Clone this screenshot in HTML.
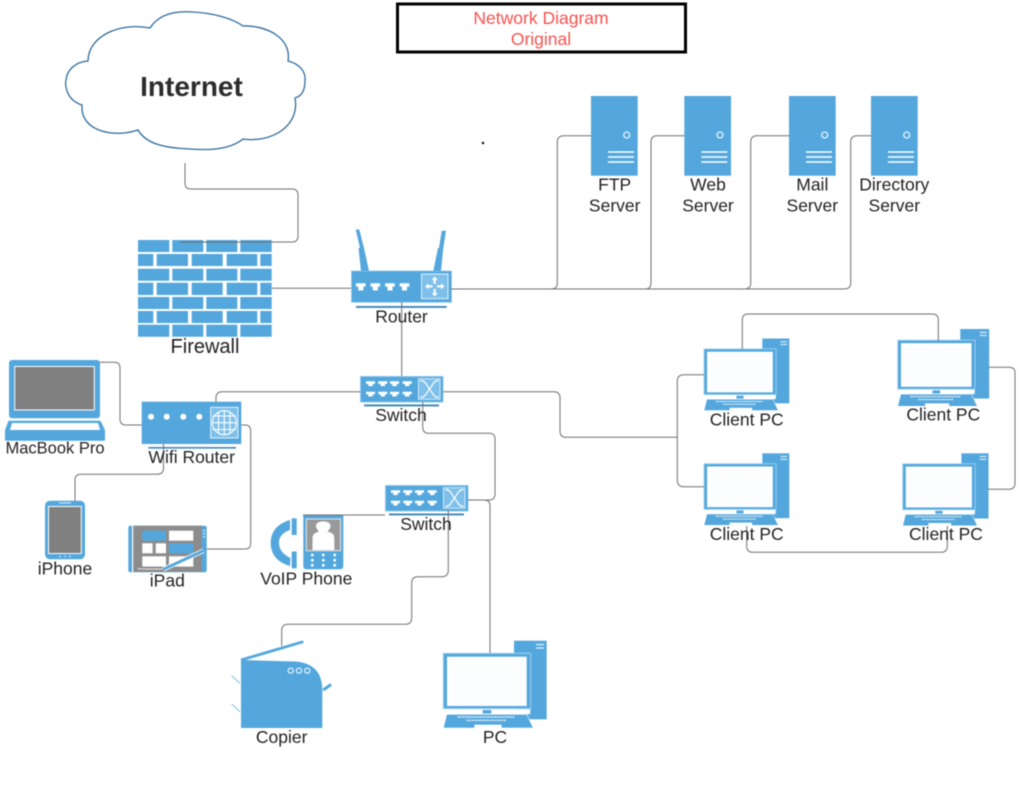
<!DOCTYPE html>
<html><head><meta charset="utf-8"><title>Network Diagram</title>
<style>
html,body{margin:0;padding:0;background:#fff;width:1024px;height:794px;overflow:hidden}
svg{display:block;filter:blur(.5px)}
text{font-family:"Liberation Sans",sans-serif;font-size:17.5px;fill:#222;text-anchor:middle}
.c{fill:none;stroke:#6f6f6f;stroke-width:1}
</style></head><body>
<svg width="1024" height="794" viewBox="0 0 1024 794" xmlns="http://www.w3.org/2000/svg">
<defs>
<path id="port" d="M0 0h9v2.6h-2.3v2.2h-4.4v-2.2h-2.3z" fill="#fff"/>
<path id="rport" d="M0 0h9.6v3.3h-2.3v3.9h-5v-3.9h-2.3z" fill="#fff"/>
<g id="sw">
<rect x=".5" y=".5" width="82.5" height="25.5" fill="#53a7dd" stroke="#8cc6eb"/>
<use href="#port" x="6" y="5.3"/><use href="#port" x="18.3" y="5.3"/><use href="#port" x="30" y="5.3"/><use href="#port" x="42.7" y="5.3"/>
<use href="#port" x="6" y="15.7"/><use href="#port" x="18.3" y="15.7"/><use href="#port" x="30" y="15.7"/><use href="#port" x="42.7" y="15.7"/>
<rect x="58.5" y="2.7" width="21.5" height="20.6" fill="#7fc0ea" stroke="#d5ebf8"/>
<path d="M60.5 4.5c5 0 6 5 9 8.5s4 8.5 9 8.5M78.5 4.5c-5 0-6 5-9 8.5s-4 8.5-9 8.5" fill="none" stroke="#fff" stroke-width="1.2"/>
<rect x="4" y="28.5" width="75" height="1.9" fill="#3f85b8"/>
</g>
<g id="pc">
<rect x="70.7" y="0" width="32.7" height="78.6" fill="#53a7dd"/>
<rect x="92.7" y="3.2" width="8" height="1.4" fill="#d5ebf8"/><rect x="92.7" y="6.6" width="8" height="1.4" fill="#d5ebf8"/>
<rect x="0" y="12.6" width="87.4" height="55.4" fill="#53a7dd" stroke="#a5d2ef" stroke-width="1"/>
<rect x="3.7" y="16" width="79.7" height="49.3" fill="#fbfdff"/>
<rect x="68" y="68.5" width="19" height="5" fill="#fff"/>
<rect x="39.3" y="69.3" width="8.7" height="3.6" fill="#53a7dd"/>
<path d="M3.4 73.6H83.4L90 87.3H0z" fill="#53a7dd" stroke="#fff" stroke-width=".6"/>
<path d="M14.3 76.3H71.7" stroke="#fff" stroke-width="1.5" stroke-dasharray="1.5 1"/>
<path d="M23.3 79.7H63.3" stroke="#fff" stroke-width="1.5" stroke-dasharray="1.5 1"/>
<rect x="31" y="84" width="27.3" height="3.3" fill="#fff"/>
</g>
<g id="srv">
<rect width="46.7" height="79.7" fill="#53a7dd"/>
<circle cx="35.7" cy="39" r="3" fill="none" stroke="#e4f2fb" stroke-width="1.3"/>
<path d="M17 56H43M17 61H43M17 66H43" stroke="#fff" stroke-width="1.6"/>
</g>
</defs>

<!-- title -->
<rect x="397.5" y="4" width="288" height="48" fill="#fff" stroke="#000" stroke-width="3"/>
<text x="541" y="24" style="fill:#f65350">Network Diagram</text>
<text x="541" y="45" style="fill:#f65350">Original</text>
<circle cx="483" cy="143" r="1.2" fill="#000"/>

<!-- cloud -->
<path d="M150 28C160 12 180 11 193 12C212 13 232 18 243 26C266 25 292 38 288 61C300 64 306 72 305 81C305 90 302 96 295 98C300 126 272 143 243 139C228 151 205 150 190 149C165 148 146 144 138 130C115 138 80 132 82 105C66 100 65 85 66 80C67 70 75 62 88 61C88 36 120 22 150 28Z" fill="#fff" stroke="#2f6b9c" stroke-width="1.3"/>
<text x="191.5" y="96" style="font-size:28px;font-weight:bold;fill:#2c2c2c">Internet</text>

<!-- firewall -->
<g fill="#53a7dd">
<path d="M138 240h31.3v12h-31.3zM172.3 240h31v12h-31zM206.3 240h31v12h-31zM240.3 240h31.4v12h-31.4z"/>
<path d="M138 254h15.3v12h-15.3zM156.7 254h31.3v12h-31.3zM191.7 254h31v12h-31zM226.7 254h30.6v12h-30.6zM260.3 254h11.4v12h-11.4z"/>
<path d="M138 268.7h31.3v12h-31.3zM172.3 268.7h31v12h-31zM206.3 268.7h31v12h-31zM240.3 268.7h31.4v12h-31.4z"/>
<path d="M138 282.7h15.3v12.3h-15.3zM156.7 282.7h31.3v12.3h-31.3zM191.7 282.7h31v12.3h-31zM226.7 282.7h30.6v12.3h-30.6zM260.3 282.7h11.4v12.3h-11.4z"/>
<path d="M138 297h31.3v12h-31.3zM172.3 297h31v12h-31zM206.3 297h31v12h-31zM240.3 297h31.4v12h-31.4z"/>
<path d="M138 311h15.3v12h-15.3zM156.7 311h31.3v12h-31.3zM191.7 311h31v12h-31zM226.7 311h30.6v12h-30.6zM260.3 311h11.4v12h-11.4z"/>
<path d="M138 324.7h31.3v12h-31.3zM172.3 324.7h31v12h-31zM206.3 324.7h31v12h-31zM240.3 324.7h31.4v12h-31.4z"/>
</g>

<!-- router -->
<path d="M355.7 229.5H359.3L364 248L369 271H361L358.5 248H360z" fill="#53a7dd"/>
<path d="M441.7 230.7H446L443.3 248L441 271H433.3L438 248H439z" fill="#53a7dd"/>
<rect x="351.5" y="271" width="100" height="31.3" fill="#53a7dd" stroke="#8cc6eb" stroke-width=".7"/>
<use href="#rport" x="356" y="283.3"/><use href="#rport" x="370.5" y="283.3"/><use href="#rport" x="385.2" y="283.3"/><use href="#rport" x="399.7" y="283.3"/>
<rect x="421.5" y="274" width="26.5" height="24.7" fill="#7fc0ea" stroke="#e2f1fa"/>
<g fill="#fff">
<path d="M434.7 276.5l3 3.5h-2v4h-2v-4h-2zM434.7 296.5l3-3.5h-2v-4h-2v4h-2z"/>
<path d="M425 286.4l3.5-3v2h4v2h-4v2zM444.6 286.4l-3.5-3v2h-4v2h4v2z"/>
</g>
<rect x="356" y="306" width="90.7" height="1.9" fill="#3f85b8"/>

<!-- switches -->
<use href="#sw" x="360" y="376"/>
<use href="#sw" x="385" y="485"/>

<!-- wifi router -->
<rect x="141.7" y="401.7" width="99.6" height="42.3" fill="#53a7dd"/>
<g fill="#fff"><circle cx="151" cy="416.7" r="3"/><circle cx="166.7" cy="416.7" r="3"/><circle cx="183.3" cy="416.7" r="3"/><circle cx="199.3" cy="416.7" r="3"/></g>
<rect x="210.7" y="407.3" width="27.3" height="30.7" fill="#7fc0ea" stroke="#e2f1fa"/>
<g fill="none" stroke="#fff" stroke-width="1.1">
<circle cx="224.3" cy="422.7" r="12"/>
<path d="M212.5 416H236M212.5 422.7H236.5M212.5 429.5H236M218.5 412V433M224.3 410.7V434.7M230 412V433"/>
</g>
<rect x="148.3" y="447" width="87.7" height="1.6" fill="#3f85b8"/>

<!-- macbook -->
<rect x="9" y="360" width="91" height="58.3" rx="3" fill="#53a7dd"/>
<rect x="14.7" y="366.5" width="79.6" height="43.5" fill="#808080" stroke="#fff" stroke-width="1"/>
<path d="M8.5 420.7H100.5L105 430V440.7H5V430z" fill="#53a7dd"/>
<path d="M12 423H98L100 430H10z" fill="#fff"/>

<!-- iphone -->
<rect x="45" y="500.7" width="40" height="58.6" rx="5" fill="#53a7dd"/>
<rect x="48.5" y="506.5" width="32.8" height="47" fill="#808080" stroke="#fff" stroke-width="1"/>
<rect x="59" y="502.3" width="12" height="1.2" fill="#cfe6f6"/>
<g fill="#fff"><circle cx="60" cy="556.5" r=".7"/><circle cx="65" cy="556.5" r=".7"/><circle cx="70" cy="556.5" r=".7"/></g>

<!-- ipad -->
<rect x="128.3" y="525.7" width="78.4" height="46.6" rx="2" fill="#53a7dd"/>
<rect x="132.7" y="525.7" width="69" height="46.2" fill="#8c8c8c"/>
<rect x="132" y="525.7" width="1.2" height="46.6" fill="#fff"/>
<rect x="142.3" y="530.7" width="23.7" height="10" fill="#53a7dd"/>
<rect x="169" y="530.7" width="24.3" height="10" fill="#fff"/>
<rect x="142.3" y="543.3" width="10.3" height="10" fill="#fff"/>
<rect x="155.7" y="543.3" width="10.3" height="10" fill="#fff"/>
<rect x="169" y="543.3" width="24.3" height="10" fill="#53a7dd"/>
<rect x="142.3" y="556.3" width="23.7" height="10.3" fill="#fff"/>
<rect x="169" y="556.3" width="24.3" height="10.3" fill="#fff"/>
<path d="M137.5 568.5C145 569.5 155 569 163 569" fill="none" stroke="#fff" stroke-width=".8"/>
<path d="M163.3 569.3L203.5 550.7" stroke="#fff" stroke-width="4.6"/>
<path d="M163.3 569.3L203.5 550.7" stroke="#53a7dd" stroke-width="3"/>
<g fill="#d5ebf8"><rect x="203" y="530" width="2" height="1.4"/><rect x="203" y="533" width="2" height="1.4"/><rect x="203" y="536" width="2" height="1.4"/></g>

<!-- voip -->
<path d="M290 520C276 524 270.7 533 270.7 543C270.7 553 276 562 290 566L290.5 558C284 555 279 550 279 543C279 536 284 532 290 530z" fill="#53a7dd"/>
<rect x="291.7" y="518.3" width="5" height="16.7" fill="#53a7dd"/>
<rect x="291.7" y="551.5" width="5" height="16.8" fill="#53a7dd"/>
<path d="M303.3 515H343.3V566Q343.3 569.3 340 569.3H306.5Q303.3 569.3 303.3 566z" fill="#53a7dd"/>
<rect x="306.3" y="519" width="34.2" height="31.7" fill="#999" stroke="#e8e8e8" stroke-width="1"/>
<path d="M312.5 550V538C312.5 533 317 532.5 319 531.5C316.5 529 316 527 316 526C316 522.5 319.5 521.5 323.3 521.5C327 521.5 330.5 522.5 330.5 526C330.5 527 330 529 327.5 531.5C330 532.5 334.3 533 334.3 538V550z" fill="#fff"/>
<g fill="#fff"><circle cx="312.3" cy="555" r="1.4"/><circle cx="323.3" cy="555" r="1.4"/><circle cx="334.7" cy="555" r="1.4"/><circle cx="312.3" cy="560.2" r="1.4"/><circle cx="323.3" cy="560.2" r="1.4"/><circle cx="334.7" cy="560.2" r="1.4"/><circle cx="312.3" cy="565.3" r="1.4"/><circle cx="323.3" cy="565.3" r="1.4"/><circle cx="334.7" cy="565.3" r="1.4"/></g>

<!-- copier -->
<path d="M241 660L296 661.5Q322.3 664 322.3 690V728H241z" fill="#53a7dd"/>
<path d="M241 660L303.3 641.7" stroke="#53a7dd" stroke-width="2.8" fill="none"/>
<g fill="#53a7dd" stroke="#fff" stroke-width="1"><circle cx="290.7" cy="670.7" r="2.6"/><circle cx="299" cy="670.7" r="2.6"/><circle cx="307.3" cy="670.7" r="2.6"/></g>
<path d="M231.7 675.7L240 683.3M231.7 704L240 711.7" stroke="#7fbde6" stroke-width="1"/>
<path d="M323.3 690L331 684.5" stroke="#53a7dd" stroke-width="3"/>

<!-- PCs -->
<use href="#pc" x="443.3" y="640.7"/>
<use href="#pc" transform="translate(704 338.5) scale(.825)"/>
<use href="#pc" transform="translate(897.7 329) scale(.885)"/>
<use href="#pc" transform="translate(704 453.3) scale(.825)"/>
<use href="#pc" transform="translate(902.7 453.3) scale(.83)"/>

<!-- servers -->
<use href="#srv" x="591" y="96"/>
<use href="#srv" x="684.3" y="96"/>
<use href="#srv" x="789" y="96"/>
<use href="#srv" x="871" y="96"/>

<!-- connectors -->
<g class="c">
<path d="M185 163V183Q185 189 191 189H292Q298 189 298 195V236Q298 242 292 242H180"/>
<path d="M272 288.3H351"/>
<path d="M401.7 302V376"/>
<path d="M451 289H551Q557.3 289 557.3 283V142Q557.3 135.7 564 135.7H591"/>
<path d="M451 289H645Q651 289 651 283V142Q651 135.7 657 135.7H684.3"/>
<path d="M451 289H744Q750.7 289 750.7 283V142Q750.7 135.7 757 135.7H789"/>
<path d="M451 289H844Q850.7 289 850.7 283V142Q850.7 135.7 857 135.7H871"/>
<path d="M360 391.7H222Q216 391.7 216 398V402"/>
<path d="M443 391.7H554Q560 391.7 560 398V431Q560 437.3 566 437.3H677.3"/>
<path d="M100 362.3H114Q120 362.3 120 368V419Q120 425 126 425H141.7"/>
<path d="M163.5 444V468Q163.5 474.3 157 474.3H81Q75 474.3 75 480V501"/>
<path d="M241.3 425H245Q250.7 425 250.7 431V543Q250.7 549 245 549H206.7"/>
<path d="M422.7 402V427Q422.7 433.3 429 433.3H489Q495 433.3 495 439V494Q495 500 489 500H468"/>
<path d="M468 500H484Q490 500 490 506V653"/>
<path d="M303 515H385"/>
<path d="M448.3 510V570Q448.3 576.7 442 576.7H418Q411.7 576.7 411.7 583V618Q411.7 624.3 405 624.3H288Q281.7 624.3 281.7 631V646"/>
<path d="M742.3 349V320Q742.3 314 748 314H932Q938.3 314 938.3 320V341"/>
<path d="M704 374.7H684Q677.3 374.7 677.3 381V480Q677.3 486.7 684 486.7H704"/>
<path d="M989 367.3H1009Q1015 367.3 1015 373V483Q1015 489.3 1009 489.3H988"/>
<path d="M746.7 526V546Q746.7 552.3 753 552.3H941Q947.3 552.3 947.3 546V526"/>
</g>

<!-- labels -->
<text x="205" y="353" style="font-size:20px">Firewall</text>
<text x="401.5" y="322.5">Router</text>
<text x="401" y="421">Switch</text>
<text x="426" y="530">Switch</text>
<text x="191.7" y="463">Wifi Router</text>
<text x="55" y="453.5" style="font-size:16.5px">MacBook Pro</text>
<text x="65" y="574.5">iPhone</text>
<text x="167.3" y="586.5">iPad</text>
<text x="306.3" y="584.5">VoIP Phone</text>
<text x="281.7" y="743">Copier</text>
<text x="495" y="743">PC</text>
<text x="746.7" y="425.5">Client PC</text>
<text x="943.3" y="420.7">Client PC</text>
<text x="746.7" y="540">Client PC</text>
<text x="946" y="540">Client PC</text>
<text x="614.7" y="190.3">FTP</text><text x="614.7" y="211.7">Server</text>
<text x="708" y="190.3">Web</text><text x="708" y="211.7">Server</text>
<text x="812.3" y="190.3">Mail</text><text x="812.3" y="211.7">Server</text>
<text x="894.3" y="190.3">Directory</text><text x="894.3" y="211.7">Server</text>
</svg>
</body></html>
